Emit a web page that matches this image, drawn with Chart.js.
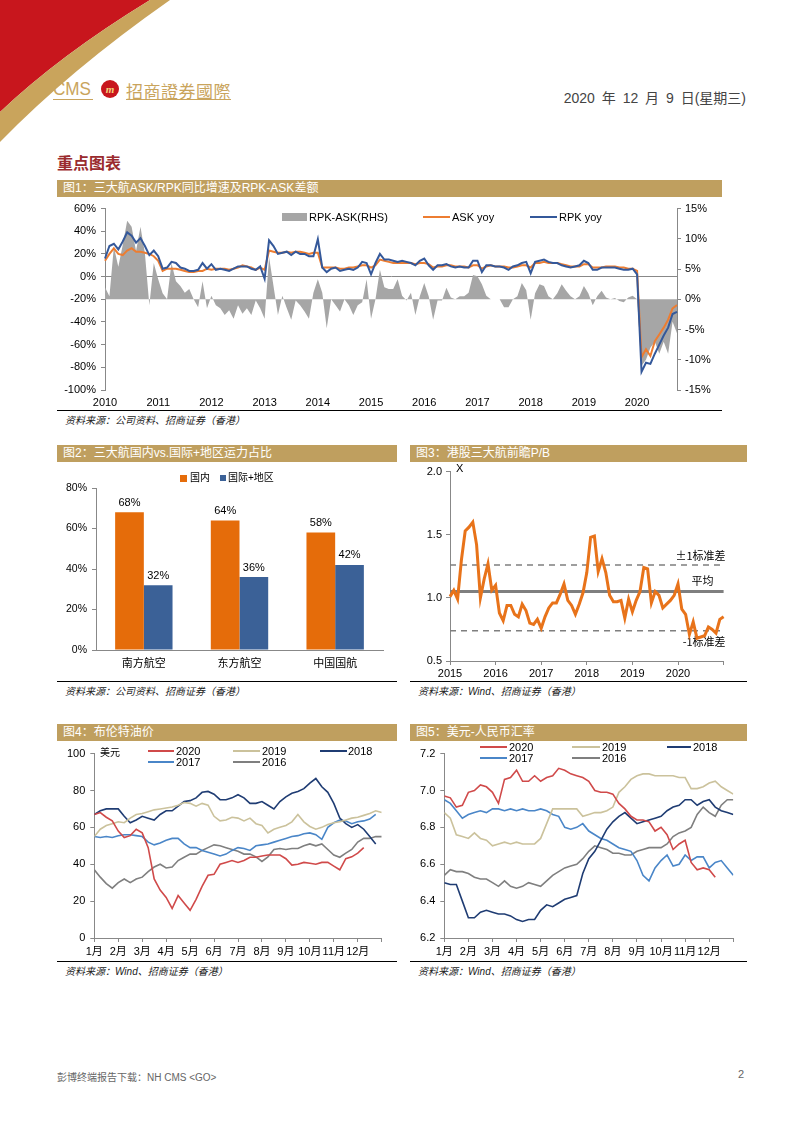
<!DOCTYPE html>
<html>
<head>
<meta charset="utf-8">
<script src="https://cdn.jsdelivr.net/npm/chart.js@4.4.1/dist/chart.umd.min.js"></script>
<style>
  body { margin:0; width:794px; height:1122px; position:relative; background:#fff; overflow:hidden;
         font-family:"Liberation Sans","Noto Sans CJK SC",Arial,sans-serif; }
  .abs { position:absolute; }
  .tbar { position:absolute; height:17px; background:#BF9F5F; color:#fff; font-size:12px; line-height:17px;
          padding-left:6px; box-sizing:border-box; white-space:nowrap; }
  .src { position:absolute; border-top:1px solid #000; font-size:10px; font-style:italic; color:#222;
         padding-left:8px; padding-top:1px; box-sizing:border-box; white-space:nowrap; }
  .box { position:absolute; }
  .lg { position:absolute; font-size:11px; line-height:12px; white-space:nowrap; color:#000; }
  .ln { position:absolute; height:2px; }
</style>
</head>
<body>

<!-- header -->
<svg class="abs" style="left:0;top:0" width="200" height="150">
  <path d="M0,0 L150,0 Q60,55 0,112 Z" fill="#C8161D"/>
  <path d="M150,0 L170,0 Q70,70 0,142 L0,112 Q60,55 150,0 Z" fill="#C9A45C"/>
</svg>
<div class="abs" style="left:53px;top:78px;font-size:19px;color:#C9A45C;transform:scaleX(0.9);transform-origin:left top">CMS</div>
<svg class="abs" style="left:100px;top:79px" width="20" height="20">
  <circle cx="10" cy="10" r="9" fill="#C8161D"/>
  <text x="10" y="14" font-size="11" font-style="italic" font-weight="bold" fill="#F4D27A" text-anchor="middle" font-family="Liberation Serif">m</text>
</svg>
<div class="abs" style="left:126px;top:78px;font-size:17px;color:#C9A45C;font-family:'Noto Sans CJK TC';letter-spacing:0.5px">招商證券國際</div>
<div class="abs" style="left:53px;top:99px;width:40px;height:1px;background:#C9A45C"></div>
<div class="abs" style="left:126px;top:99px;width:105px;height:1px;background:#C9A45C"></div>
<div class="abs" style="right:48px;top:87px;font-size:14px;color:#444;word-spacing:3px">2020 年 12 月 9 日(星期三)</div>

<div class="abs" style="left:57px;top:150px;font-size:16px;font-weight:bold;color:#9A2B2E;font-family:'Noto Sans CJK SC'">重点图表</div>

<!-- chart 1 -->
<div class="tbar" style="left:57px;top:180px;width:665px">图1：三大航ASK/RPK同比增速及RPK-ASK差额</div>
<div class="box" style="left:57px;top:197px;width:665px;height:213px"><canvas id="c1"></canvas></div>
<div class="abs" style="left:282px;top:213px;width:25px;height:8px;background:#A6A6A6"></div>
<div class="lg" style="left:309px;top:211px">RPK-ASK(RHS)</div>
<div class="ln" style="left:423px;top:216px;width:27px;background:#ED7D31"></div>
<div class="lg" style="left:452px;top:211px">ASK yoy</div>
<div class="ln" style="left:530px;top:216px;width:27px;background:#34589A"></div>
<div class="lg" style="left:559px;top:211px">RPK yoy</div>
<div class="src" style="left:57px;top:410px;width:665px">资料来源：公司资料、招商证券（香港）</div>

<!-- chart 2 -->
<div class="tbar" style="left:57px;top:445px;width:340px">图2：三大航国内vs.国际+地区运力占比</div>
<div class="box" style="left:57px;top:462px;width:343px;height:218px"><canvas id="c2"></canvas></div>
<div class="abs" style="left:180px;top:475px;width:7px;height:7px;background:#E56C0A"></div>
<div class="lg" style="left:190px;top:472px;font-size:10px">国内</div>
<div class="abs" style="left:220px;top:475px;width:6px;height:6px;background:#3B6197"></div>
<div class="lg" style="left:228px;top:472px;font-size:10px">国际+地区</div>
<div class="src" style="left:57px;top:681px;width:340px">资料来源：公司资料、招商证券（香港）</div>

<!-- chart 3 -->
<div class="tbar" style="left:410px;top:445px;width:337px">图3：港股三大航前瞻P/B</div>
<div class="box" style="left:410px;top:461px;width:338px;height:219px"><canvas id="c3"></canvas></div>
<div class="lg" style="left:456px;top:462px">X</div>
<div class="src" style="left:410px;top:681px;width:337px">资料来源：Wind、招商证券（香港）</div>

<!-- chart 4 -->
<div class="tbar" style="left:57px;top:724px;width:340px">图4：布伦特油价</div>
<div class="box" style="left:57px;top:742px;width:343px;height:218px"><canvas id="c4"></canvas></div>
<div class="lg" style="left:100px;top:747px;font-size:10px">美元</div>
<div class="ln" style="left:148px;top:750px;width:26px;background:#D04A4A"></div>
<div class="lg" style="left:176px;top:745px">2020</div>
<div class="ln" style="left:233px;top:750px;width:27px;background:#CBC29C"></div>
<div class="lg" style="left:262px;top:745px">2019</div>
<div class="ln" style="left:320px;top:750px;width:27px;background:#1F3C73"></div>
<div class="lg" style="left:348px;top:745px">2018</div>
<div class="ln" style="left:148px;top:761px;width:26px;background:#4A86C8"></div>
<div class="lg" style="left:176px;top:756px">2017</div>
<div class="ln" style="left:233px;top:761px;width:27px;background:#7F7F7F"></div>
<div class="lg" style="left:262px;top:756px">2016</div>
<div class="src" style="left:57px;top:961px;width:340px">资料来源：Wind、招商证券（香港）</div>

<!-- chart 5 -->
<div class="tbar" style="left:410px;top:724px;width:337px">图5：美元-人民币汇率</div>
<div class="box" style="left:410px;top:742px;width:338px;height:218px"><canvas id="c5"></canvas></div>
<div class="ln" style="left:480px;top:746px;width:27px;background:#D04A4A"></div>
<div class="lg" style="left:509px;top:741px">2020</div>
<div class="ln" style="left:572px;top:746px;width:28px;background:#CBC29C"></div>
<div class="lg" style="left:602px;top:741px">2019</div>
<div class="ln" style="left:667px;top:746px;width:24px;background:#1F3C73"></div>
<div class="lg" style="left:693px;top:741px">2018</div>
<div class="ln" style="left:480px;top:757px;width:27px;background:#4A86C8"></div>
<div class="lg" style="left:509px;top:752px">2017</div>
<div class="ln" style="left:572px;top:757px;width:28px;background:#7F7F7F"></div>
<div class="lg" style="left:602px;top:752px">2016</div>
<div class="src" style="left:410px;top:961px;width:337px">资料来源：Wind、招商证券（香港）</div>

<!-- footer -->
<div class="abs" style="left:57px;top:1069px;font-size:10px;color:#666">彭博终端报告下载：NH CMS &lt;GO&gt;</div>
<div class="abs" style="left:738px;top:1068px;font-size:11px;color:#666">2</div>

<script>
// ---- data ----
// chart 1: monthly, Jan 2010 - Oct 2020
const years1 = ['2010','2011','2012','2013','2014','2015','2016','2017','2018','2019','2020'];
const askYoy = [
  14,20,25,20,19,23,25,22,22,21,20,18,
  14,5,7,7,7,6,5,4,4,5,5,7,
  6,7,7,7,6,7,8,10,9,8,6,8,
  6,23,22,21,21,22,21,22,22,21,20,21,
  21,8,8,8,8,7,7,8,8,9,10,10,
  8,10,15,14,13,12,12,12,12,12,11,12,
  12,11,8,9,9,10,10,9,9,9,8,10,
  10,7,9,10,9,9,9,8,8,9,10,10,
  8,12,12,13,12,12,12,11,10,9,9,9,
  11,11,8,8,8,9,9,9,8,8,7,7,
  5,-71,-64,-70,-57,-51,-45,-38,-28,-25];
const rpkYoy = [
  16,27,29,24,31,39,36,30,34,27,19,23,
  18,7,8,13,12,8,7,5,5,6,12,7,
  11,6,7,6,5,7,9,9,9,7,6,9,
  -2,32,27,20,21,22,19,22,20,20,18,18,
  33,8,4,7,8,5,6,7,6,8,13,12,
  2,12,20,15,15,14,13,14,13,12,10,14,
  16,10,6,10,10,11,9,8,9,8,8,14,
  14,4,10,10,9,9,8,6,9,10,12,13,
  3,13,14,15,13,12,12,10,9,8,9,10,
  14,12,6,6,8,8,8,8,7,6,6,7,
  2,-84,-76,-77,-68,-60,-52,-45,-33,-31];
const rpkAskDiff = [
  2,0.5,8.7,5.4,9,13,12,8,12,7.6,-1,6,
  3.3,1,0,6,3,2.2,1.1,1.7,0,-1.3,3,-1.5,
  0.6,-1,-1.5,-2.6,-1.8,-3.2,-1,-2.4,-1.5,-2.6,-0.2,-1.5,
  -3.2,7,2.2,-2.6,0.6,-1.5,-3.4,-0.2,-1,-2,-3.2,1.1,
  3.3,1.1,-4.8,0,-1,-2,0,-1,-2.6,-1,-0.5,3.3,
  -3.2,0,4.9,2,1.7,1.7,3.3,0.6,-0.2,1.1,-2.6,0.5,
  2.7,0.5,-3.4,-0.2,-0.2,1.9,0.3,0,0.5,0.5,1.1,4,
  3.8,2.5,0.6,0,0,0,-1.3,-1.3,0,0.5,2.7,1.5,
  -3.4,1,2.5,2.2,0.5,0,1,2.5,1.4,0.5,0,0.5,
  2.2,1,-1,0.5,1.4,0.3,0,0.2,-0.3,-0.5,0.3,0.6,
  0,-11,-10,-8,-7,-9,-7,-9,-3.7,-5.6];

// chart 2
const airlines = ['南方航空','东方航空','中国国航'];
const domesticShare = [68,64,58];
const intlShare = [32,36,42];

// chart 3: monthly forward P/B, Jan 2015 onward
const years3 = ['2015','2016','2017','2018','2019','2020'];
const pbForward = [
  1.01,1.06,0.99,1.3,1.53,1.56,1.6,1.42,1.0,1.15,1.27,1.06,
  1.1,0.88,0.82,0.94,0.94,0.87,0.85,0.95,0.9,0.8,0.79,0.83,
  0.76,0.85,0.92,0.96,0.96,1.03,1.11,0.98,0.94,0.87,0.95,1.04,
  1.2,1.48,1.49,1.21,1.31,1.2,1.02,0.97,0.97,0.98,0.84,0.99,
  0.89,0.98,1.05,1.24,1.23,0.96,1.05,1.02,0.92,0.95,0.98,1.02,
  1.11,0.91,0.87,0.71,0.81,0.68,0.69,0.7,0.77,0.75,0.72,0.83,0.85];
const pbBands = [1.26, 1.05, 0.74];
const pbBandNames = ['±1标准差', '平均', '-1标准差'];

// charts 4-5: sampled four times a month (x = month offset)
const monthNames = ['1月','2月','3月','4月','5月','6月','7月','8月','9月','10月','11月','12月'];
const brent2020 = [67,68,65.5,63.5,58,54.5,55.5,59,57,49,32,26,22,16,23,19,15,21,28,34,34.5,40,41,42,41,42,43.8,43.8,44.5,45,45,45,43,39.5,40,41,40.5,40,41,41,39,37,43,44,46,49];
const brent2019 = [55,59,61,62,63,62.5,65,67,67.5,68.5,69.5,70,70.5,71,72,73.5,73,71.5,73,72,66,63.5,64,65.5,65,63.5,65,62,61,57,59,60,61,63,67,63,60.5,59,60,61.5,62.5,63,64,65,65.5,66.5,67.5,69,68];
const brent2018 = [67,69,70,70,70,66,62.5,64,66,65,64,67,69,69,71.5,74,74.5,76,79,79.5,78,75,75,76,77.7,76,73,73,74,72,70,74,76.5,78.5,79.5,81,84,86.5,82,79,73,65,62,60,61.5,59,55,51];
const brent2017 = [55,54.5,55,54.5,55.5,56,56,55.5,55,52,50.5,51.5,53,54,54,51,49,49,47.5,46.5,45.5,44.5,45.5,47.5,49,48.5,47.5,50,50.5,51,52,53,54,55,55.5,56.5,57,56,53.5,60,62.5,64,63.5,62,63,63.5,64.5,67];
const brent2016 = [37,33,29.5,27,30,32,30,32,33,36,38.5,40,38,38.5,42,43.8,45.5,45.5,47.5,49,50.5,50,49,48,47,45.5,45.5,44,41.5,44,48,48.5,48,48.5,48.5,50,51,50,51,48,45,43.8,46,48,52,54,54,55,55];

const fx2020 = [6.97,6.96,6.91,6.92,6.99,7.0,7.03,7.02,6.99,6.93,7.06,7.07,7.11,7.05,7.05,7.08,7.05,7.07,7.08,7.12,7.11,7.09,7.08,7.07,7.05,7.0,6.99,6.99,6.98,6.93,6.9,6.86,6.84,6.84,6.83,6.78,6.8,6.76,6.68,6.71,6.73,6.61,6.57,6.58,6.57,6.53];
const fx2019 = [6.88,6.85,6.76,6.75,6.74,6.77,6.74,6.73,6.7,6.71,6.72,6.71,6.72,6.71,6.71,6.71,6.74,6.82,6.9,6.9,6.9,6.9,6.9,6.86,6.87,6.88,6.88,6.89,6.91,6.99,7.02,7.06,7.08,7.09,7.09,7.08,7.08,7.08,7.08,7.07,7.07,7.01,7.01,7.02,7.04,7.05,7.02,7.0,6.98];
const fx2018 = [6.5,6.49,6.49,6.4,6.31,6.31,6.34,6.35,6.34,6.33,6.33,6.32,6.3,6.29,6.3,6.3,6.35,6.38,6.37,6.39,6.41,6.42,6.43,6.55,6.63,6.67,6.73,6.79,6.83,6.86,6.88,6.85,6.82,6.83,6.84,6.85,6.86,6.89,6.91,6.92,6.95,6.95,6.92,6.94,6.95,6.91,6.89,6.88,6.87];
const fx2017 = [6.95,6.93,6.89,6.85,6.87,6.88,6.89,6.88,6.9,6.9,6.89,6.9,6.89,6.9,6.89,6.89,6.9,6.89,6.87,6.86,6.8,6.79,6.8,6.82,6.78,6.76,6.74,6.73,6.71,6.69,6.68,6.67,6.62,6.54,6.51,6.58,6.62,6.65,6.59,6.6,6.65,6.62,6.64,6.64,6.58,6.61,6.62,6.58,6.54];
const fx2016 = [6.54,6.57,6.56,6.56,6.55,6.53,6.52,6.52,6.5,6.48,6.51,6.48,6.47,6.48,6.5,6.49,6.48,6.51,6.54,6.56,6.58,6.59,6.6,6.63,6.67,6.7,6.69,6.68,6.66,6.66,6.65,6.65,6.67,6.68,6.69,6.69,6.69,6.71,6.75,6.77,6.78,6.8,6.87,6.91,6.88,6.86,6.92,6.95,6.95];

// ---- helpers ----
Chart.defaults.font.family = '"Liberation Sans","Noto Sans CJK SC",Arial,sans-serif';
Chart.defaults.font.size = 11;
Chart.defaults.color = '#000';
Chart.defaults.animation = false;
Chart.defaults.plugins.legend.display = false;
Chart.defaults.plugins.tooltip.enabled = false;

const AXIS = '#888';
const fit = n => function (s) { if (s.isHorizontal()) s.height = n; else s.width = n; };
function monthCats(years, n) {
  const out = [];
  years.forEach(y => { for (let m = 0; m < 12; m++) out.push(m === 0 ? y : ''); });
  while (out.length < n) out.push('');
  return out.slice(0, n);
}
const byQuarterMonth = arr => arr.map((v, i) => ({ x: i / 4, y: v }));
const lineDs = (data, color, w) => ({ data, borderColor: color, borderWidth: w, pointRadius: 0, tension: 0, fill: false });

// ---- chart 1 ----
new Chart(document.getElementById('c1'), {
  type: 'line',
  data: {
    labels: monthCats(years1, askYoy.length),
    datasets: [
      Object.assign(lineDs(rpkYoy, '#34589A', 2), { yAxisID: 'y' }),
      Object.assign(lineDs(askYoy, '#ED7D31', 2), { yAxisID: 'y' }),
      { data: rpkAskDiff, yAxisID: 'y1', borderWidth: 0, pointRadius: 0, tension: 0,
        backgroundColor: '#A6A6A6', fill: 'origin' }
    ]
  },
  options: {
    responsive: true, maintainAspectRatio: false,
    layout: { padding: { top: 7, left: 0, right: 0, bottom: 0 } },
    scales: {
      x: { grid: { display: false, drawTicks: false }, border: { display: false },
           ticks: { autoSkip: false, maxRotation: 0, padding: 6, font: { size: 11 } }, afterFit: fit(20) },
      y: { position: 'left', min: -100, max: 60,
           ticks: { stepSize: 20, callback: v => v + '%', padding: 5 },
           grid: { color: c => c.tick && c.tick.value === 0 ? AXIS : 'transparent', tickColor: AXIS, tickLength: 4 },
           border: { color: AXIS }, afterFit: fit(48) },
      y1: { position: 'right', min: -15, max: 15,
            ticks: { stepSize: 5, callback: v => v + '%', padding: 4 },
            grid: { drawOnChartArea: false, color: AXIS, tickLength: 4 },
            border: { color: AXIS }, afterFit: fit(45) }
    }
  }
});

// ---- chart 2 ----
const barValueLabels = {
  id: 'barValueLabels',
  afterDatasetsDraw(chart) {
    const { ctx } = chart;
    ctx.save();
    ctx.font = '11px "Liberation Sans", Arial';
    ctx.fillStyle = '#000';
    ctx.textAlign = 'center';
    ctx.textBaseline = 'bottom';
    chart.data.datasets.forEach((ds, di) => {
      chart.getDatasetMeta(di).data.forEach((bar, i) => ctx.fillText(ds.data[i] + '%', bar.x, bar.y - 4));
    });
    ctx.restore();
  }
};
new Chart(document.getElementById('c2'), {
  type: 'bar',
  data: {
    labels: airlines,
    datasets: [
      { data: domesticShare, backgroundColor: '#E56C0A', categoryPercentage: 0.6, barPercentage: 1 },
      { data: intlShare, backgroundColor: '#3B6197', categoryPercentage: 0.6, barPercentage: 1 }
    ]
  },
  options: {
    responsive: true, maintainAspectRatio: false,
    layout: { padding: { top: 26, right: 17, left: 0, bottom: 0 } },
    scales: {
      x: { grid: { display: false, drawTicks: false }, border: { color: AXIS },
           ticks: { padding: 7, font: { size: 11 } }, afterFit: fit(30) },
      y: { min: 0, max: 80, ticks: { stepSize: 20, callback: v => v + '%', padding: 5, font: { size: 10.5 } },
           grid: { drawOnChartArea: false, color: AXIS, tickLength: 4 }, border: { color: AXIS }, afterFit: fit(39) }
    }
  },
  plugins: [barValueLabels]
});

// ---- chart 3 ----
const pbBandLines = {
  id: 'pbBandLines',
  beforeDatasetsDraw(chart) {
    const { ctx, chartArea: a, scales: { y } } = chart;
    ctx.save();
    pbBands.forEach((v, i) => {
      const py = y.getPixelForValue(v);
      ctx.beginPath();
      ctx.strokeStyle = '#7F7F7F';
      if (i === 1) { ctx.lineWidth = 3; ctx.setLineDash([]); }
      else { ctx.lineWidth = 1.5; ctx.setLineDash([6, 5]); }
      ctx.moveTo(a.left, py); ctx.lineTo(a.right, py); ctx.stroke();
    });
    ctx.setLineDash([]);
    ctx.font = '11px "Noto Sans CJK SC"';
    ctx.fillStyle = '#000';
    ctx.textAlign = 'right';
    pbBands.forEach((v, i) => {
      const py = y.getPixelForValue(v);
      const dy = i === 2 ? 15 : (i === 1 ? -7 : -5);
      ctx.fillText(pbBandNames[i], a.right + (i === 1 ? -10 : 2), py + dy);
    });
    ctx.restore();
  }
};
new Chart(document.getElementById('c3'), {
  type: 'line',
  data: {
    labels: monthCats(years3, pbForward.length),
    datasets: [lineDs(pbForward, '#E8731A', 3)]
  },
  options: {
    responsive: true, maintainAspectRatio: false,
    layout: { padding: { top: 7.3, right: 24.4, left: 0, bottom: 0 } },
    scales: {
      x: { grid: { drawOnChartArea: false, tickLength: 4, color: c => c.index % 12 === 0 ? AXIS : 'transparent' },
           border: { color: AXIS }, ticks: { autoSkip: false, maxRotation: 0, padding: 2 }, afterFit: fit(19) },
      y: { min: 0.5, max: 2.0, ticks: { stepSize: 0.5, callback: v => v.toFixed(1), padding: 4 },
           grid: { drawOnChartArea: false, color: AXIS, tickLength: 4 }, border: { color: AXIS }, afterFit: fit(40) }
    }
  },
  plugins: [pbBandLines]
});

// ---- charts 4 & 5 ----
function yearLines(id, series, yMin, yMax, step, dec, yWidth, padRight) {
  const colors = ['#D04A4A', '#CBC29C', '#1F3C73', '#4A86C8', '#7F7F7F'];
  new Chart(document.getElementById(id), {
    type: 'line',
    data: { datasets: series.map((s, i) => lineDs(byQuarterMonth(s), colors[i], 1.6)) },
    options: {
      responsive: true, maintainAspectRatio: false,
      layout: { padding: { top: 9.7, right: padRight, left: 0, bottom: 0 } },
      scales: {
        x: { type: 'linear', min: 0, max: 12,
             ticks: { stepSize: 1, autoSkip: false, maxRotation: 0, padding: 3, callback: v => v < 12 ? monthNames[v] : '' },
             grid: { drawOnChartArea: false, color: AXIS, tickLength: 4 }, border: { color: AXIS }, afterFit: fit(22) },
        y: { min: yMin, max: yMax, ticks: { stepSize: step, callback: v => v.toFixed(dec), padding: 5 },
             grid: { drawOnChartArea: false, color: AXIS, tickLength: 4 }, border: { color: AXIS }, afterFit: fit(yWidth) }
      }
    }
  });
}
yearLines('c4', [brent2020, brent2019, brent2018, brent2017, brent2016], 0, 100, 20, 0, 37.3, 18.3);
yearLines('c5', [fx2020, fx2019, fx2018, fx2017, fx2016], 6.2, 7.2, 0.2, 1, 34.3, 14.7);
</script>
</body>
</html>
